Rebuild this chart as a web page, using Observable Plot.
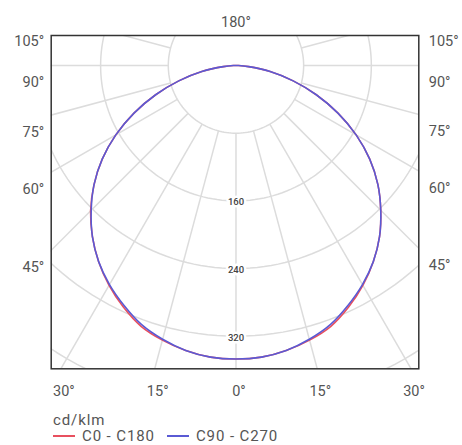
<!DOCTYPE html>
<html>
<head>
<meta charset="utf-8">
<script src="https://cdn.jsdelivr.net/npm/d3@7"></script>
<script src="https://cdn.jsdelivr.net/npm/@observablehq/plot@0.6"></script>
<style>
  html, body { margin: 0; padding: 0; background: #fff; }
  body { width: 462px; height: 445px; overflow: hidden; font-family: Roboto, "Open Sans", sans-serif; }
  #chart svg { display: block; }
  #legend { padding-left: 53px; margin-top: 12px; color: #555; font-size: 15px; line-height: 16px; letter-spacing: 0.9px; }
  #legend .row { white-space: nowrap; }
  #legend .sw { display: inline-block; width: 22px; height: 0; border-top: 2px solid; vertical-align: middle; margin-right: 7px; position: relative; top: -1px; }
  #legend .item { margin-right: 12px; }
</style>
</head>
<body>
<div id="chart"></div>
<div id="legend"></div>
<script>
// ---- data (cd/klm) ----
const gammas = [0,5,10,15,20,25,30,35,40,45,50,55,60,65,70,75,80,85,90,95,100,105,110,115,120,125,130,135,140,145,150,155,160,165,170,175,180];
const c0   = [347,346,342,336,328,315,300,283,264,242,219,193,164,133,101,70,41,15,3,0,0,0,0,0,0,0,0,0,0,0,0,0,0,0,0,0,0];
const c180 = [347,346,342,336,328,315,300,283,264,243,219,193,164,133,101,70,41,15,3,0,0,0,0,0,0,0,0,0,0,0,0,0,0,0,0,0,0];
const c90  = [347,346,342,335,326,313,299,283,264,242,219,193,164,133,101,70,41,15,3,0,0,0,0,0,0,0,0,0,0,0,0,0,0,0,0,0,0];
const c270 = [347,346,342,335,326,313,299,283,264,242,219,193,164,133,101,70,41,15,3,0,0,0,0,0,0,0,0,0,0,0,0,0,0,0,0,0,0];
const seriesNames = ["C0 - C180", "C90 - C270"];
const seriesColors = ["#e8505f", "#5a5ad4"];
const rings = [80, 160, 240, 320, 400];
const ringLabels = [160, 240, 320];
const spokeAngles = [0,15,30,45,60,75,90,105,120,135,150,165,180,195,210,225,240,255,270,285,300,315,330,345];
const sideAngles = [105, 90, 75, 60, 45];
const bottomAngles = [-30, -15, 0, 15, 30];
const topAngle = 180;
const unit = "cd/klm";

// ---- geometry ----
const xDom = [-218.4, 216.1];
const yDom = [-358.5, 35.5];
const W = 462, H = 400, mL = 50.7, mR = 43.7, mT = 35, mB = 31.7;
const k = (W - mL - mR) / (xDom[1] - xDom[0]); // px per unit
const rad = a => a * Math.PI / 180;

// curve rows: left half (negative x) then right half
function buildSeries(name, left, right) {
  const rows = [];
  for (let i = gammas.length - 1; i >= 0; i--) rows.push({s: name, g: gammas[i], v: left[i], side: -1});
  for (let i = 1; i < gammas.length; i++) rows.push({s: name, g: gammas[i], v: right[i], side: 1});
  return rows;
}
const curves = [
  ...buildSeries(seriesNames[0], c180, c0),
  ...buildSeries(seriesNames[1], c270, c90)
];

const ringPts = [];
for (const r of rings) for (let a = 0; a <= 360; a += 2) ringPts.push({r, a});
const spokes = spokeAngles.map(a => ({a}));

// angle labels positioned where the spokes meet the frame
function sideY(a, xe) {
  const ye = -xe / Math.tan(rad(a));
  return Math.min(ye - 17 / k, yDom[1] - 6 / k);
}
const leftLabels = sideAngles.map(a => ({text: a + "°", x: xDom[0], y: sideY(a, -xDom[0])}));
const rightLabels = sideAngles.map(a => ({text: a + "°", x: xDom[1], y: sideY(a, xDom[1])}));
const bottomLabels = bottomAngles.map(a => ({text: Math.abs(a) + "°", x: -yDom[0] * Math.tan(rad(a)) + 3 / k, y: yDom[0]}));
const topLabels = [{text: topAngle + "°", x: 0, y: yDom[1]}];

const color = Plot.scale({color: {domain: seriesNames, range: seriesColors}});
const lblStyle = {x: "x", y: "y", text: "text", fontSize: 14.5, fill: "#555"};

const plot = Plot.plot({
  width: W, height: H,
  marginLeft: mL, marginRight: mR, marginTop: mT, marginBottom: mB,
  x: {domain: xDom, axis: null},
  y: {domain: yDom, axis: null},
  color: {domain: seriesNames, range: seriesColors},
  style: {fontFamily: "Roboto, 'Open Sans', sans-serif", background: "#fff", overflow: "visible"},
  marks: [
    Plot.line(ringPts, {x: d => d.r * Math.sin(rad(d.a)), y: d => -d.r * Math.cos(rad(d.a)), z: "r", stroke: "#dcdcdc", strokeWidth: 1.5, clip: true}),
    Plot.link(spokes, {
      x1: d => rings[0] * Math.sin(rad(d.a)), y1: d => -rings[0] * Math.cos(rad(d.a)),
      x2: d => 700 * Math.sin(rad(d.a)), y2: d => -700 * Math.cos(rad(d.a)),
      stroke: "#dcdcdc", strokeWidth: 1.5, clip: true
    }),
    Plot.text(ringLabels, {x: 0, y: d => -d, text: d => String(d), fontSize: 9.5, fontWeight: 500, fill: "#444", stroke: "white", strokeWidth: 5, paintOrder: "stroke", dy: 1.5}),
    Plot.line(curves, {x: d => d.side * d.v * Math.sin(rad(d.g)), y: d => -d.v * Math.cos(rad(d.g)), z: "s", stroke: "s", strokeWidth: 1.6, curve: "catmull-rom", clip: true}),
    Plot.frame({stroke: "#333", strokeWidth: 1.5}),
    Plot.text(leftLabels, {...lblStyle, textAnchor: "end", dx: -7}),
    Plot.text(rightLabels, {...lblStyle, textAnchor: "start", dx: 10}),
    Plot.text(bottomLabels, {...lblStyle, textAnchor: "middle", dy: 23}),
    Plot.text(topLabels, {...lblStyle, textAnchor: "middle", dy: -13}),
  ]
});
document.getElementById("chart").appendChild(plot);

// legend
const lg = document.getElementById("legend");
lg.innerHTML = `<div class="row">${unit}</div><div class="row">` +
  seriesNames.map((n, i) => `<span class="item"><span class="sw" style="border-color:${color.apply(n)}"></span>${n}</span>`).join("") +
  `</div>`;
</script>
</body>
</html>
